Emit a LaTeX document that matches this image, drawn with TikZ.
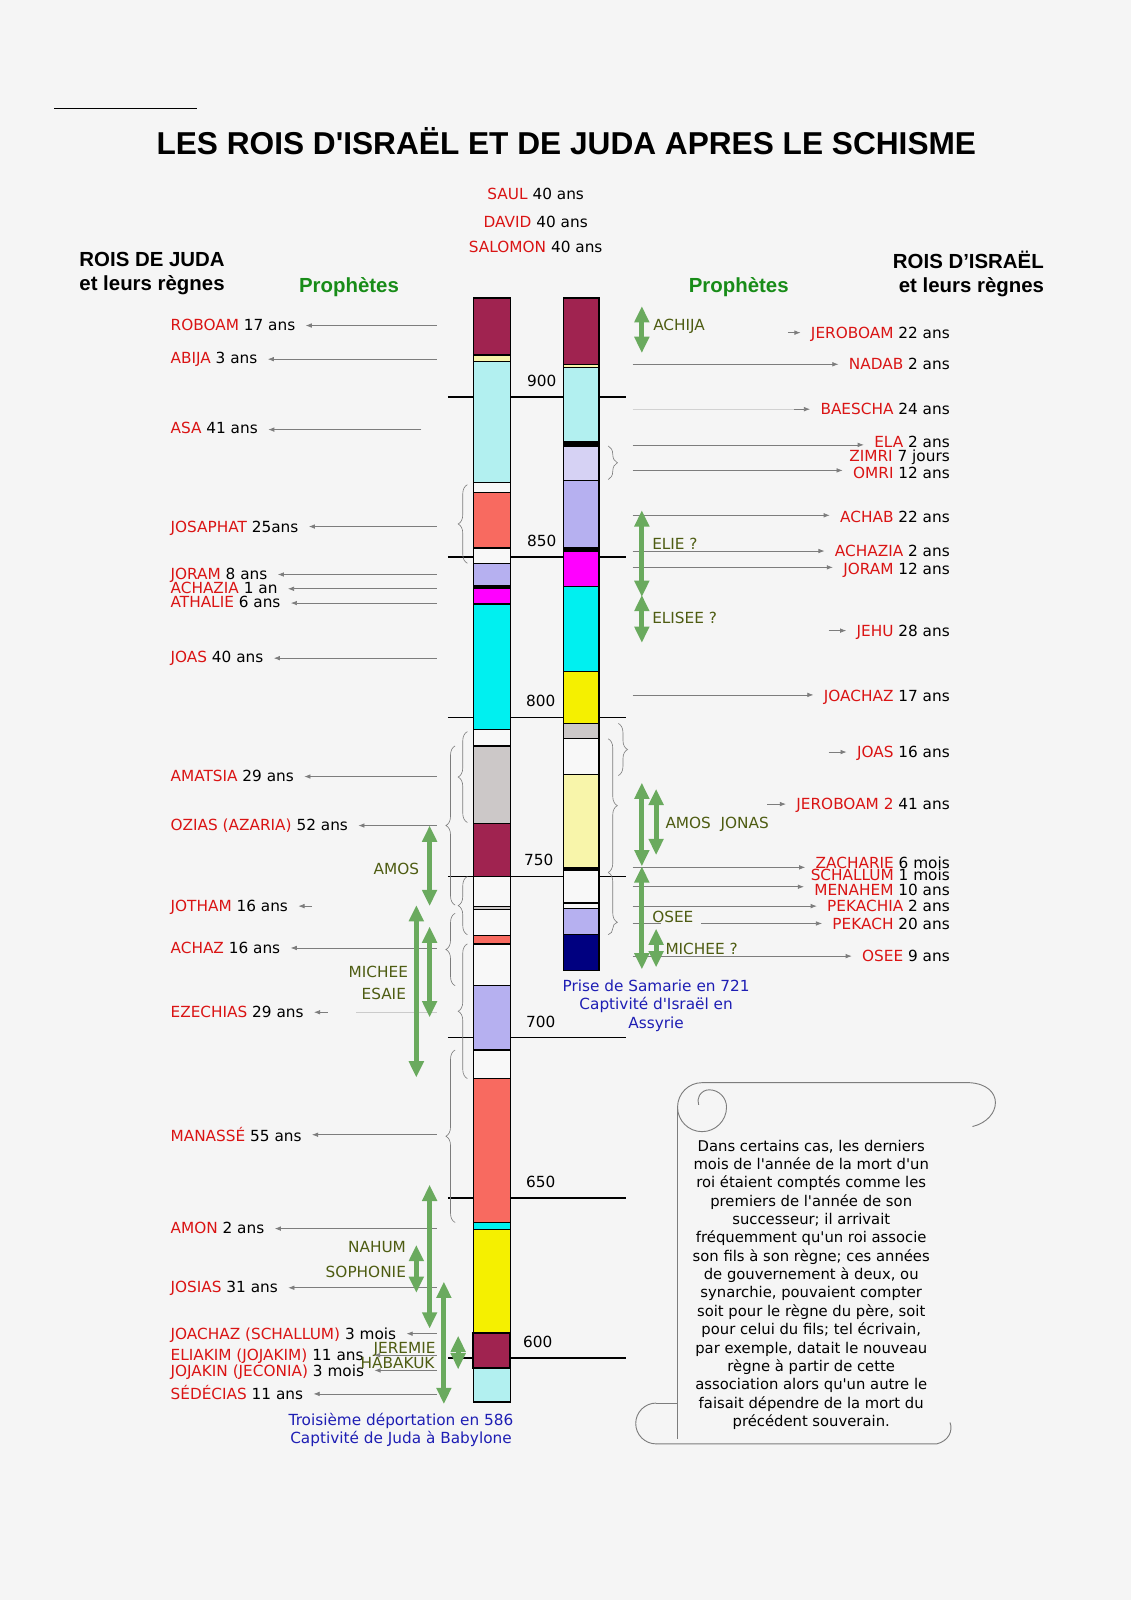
\documentclass[tikz,border=0pt]{standalone}
\usepackage{fontspec}
\setmainfont{DejaVu Sans}
\newfontfamily\dv{DejaVu Sans}
\newfontfamily\hdr{Liberation Sans}
\usetikzlibrary{arrows.meta,decorations.pathreplacing}
\definecolor{bgc}{RGB}{245,245,245}
\definecolor{kred}{RGB}{218,20,20}
\definecolor{pgreen}{RGB}{106,170,94}
\definecolor{hgreen}{RGB}{24,140,24}
\definecolor{olive}{RGB}{78,92,18}
\definecolor{tblue}{RGB}{30,30,180}
\definecolor{gline}{RGB}{125,125,125}
\definecolor{cMaroon}{RGB}{160,35,80}
\definecolor{cPaleY}{RGB}{248,245,170}
\definecolor{cLCyan}{RGB}{178,240,240}
\definecolor{cSalmon}{RGB}{248,106,96}
\definecolor{cLav}{RGB}{182,176,240}
\definecolor{cLLav}{RGB}{214,210,244}
\definecolor{cMag}{RGB}{255,0,255}
\definecolor{cCyan}{RGB}{0,240,240}
\definecolor{cGray}{RGB}{204,200,200}
\definecolor{cYel}{RGB}{245,240,0}
\definecolor{cNavy}{RGB}{0,0,128}
\definecolor{cWhite}{RGB}{248,248,248}
\newcommand\K[2]{{\color{kred}#1} #2}
\newcommand\jseg[3]{\draw[segline,fill=#3] (464,#1) rectangle (500,#2);}
\newcommand\iseg[3]{\draw[segline,fill=#3] (552,#1) rectangle (587,#2);}
\newcommand\larr[3]{\coordinate (a#1) at (#2,#3); \draw[ptr] (a#1) -- (a#1 -| #1.east);}
\newcommand\rarr[3]{\coordinate (a#1) at (#2,#3); \draw[ptr] (a#1) -- (a#1 -| #1.west);}
\tikzset{
  every node/.style={inner sep=0pt,text depth=0pt},
  txt/.style={font=\dv\fontsize{15}{18}\selectfont},
  lk/.style={txt,anchor=west},
  rk/.style={txt,anchor=east},
  plab/.style={txt,text=olive},
  blab/.style={txt,text=tblue,align=center},
  hd/.style={font=\hdr\bfseries\fontsize{20}{24}\selectfont},
  ptr/.style={draw=gline,line width=0.7pt,-{Latex[length=6pt,width=4.5pt]},shorten >=10pt},
  segline/.style={draw=black,line width=1.2pt},
  yearline/.style={draw=black,line width=1.4pt},
  brc/.style={draw=gline,line width=0.6pt,decorate,decoration={brace,amplitude=9pt}},
  gar/.style={draw=pgreen,line width=5pt,{Triangle[width=14pt,length=16pt]}-{Triangle[width=14pt,length=16pt]}},
  scr/.style={draw=gline,line width=0.9pt}
}
\begin{document}
\begin{tikzpicture}[x=1pt,y=-1pt]
\fill[bgc] (0,0) rectangle (1108,1568);
\useasboundingbox (0,0) rectangle (1108,1568);

% top rule and title
\draw[black,line width=1pt] (53,106) -- (193,106);
\node[font=\hdr\bfseries\fontsize{31}{36}\selectfont] (title) at (555,138) {LES ROIS D'ISRAËL ET DE JUDA APRES LE SCHISME};

\node[txt] (saul) at (525,190) {\K{SAUL}{40 ans}};
\node[txt] (david) at (525,217) {\K{DAVID}{40 ans}};
\node[txt] (salomon) at (525,242) {\K{SALOMON}{40 ans}};

\node[hd] (hj1) at (149,254) {ROIS DE JUDA};
\node[hd] (hj2) at (149,277) {et leurs règnes};
\node[hd] (hi1) at (949,255) {ROIS D’ISRAËL};
\node[hd] (hi2) at (952,279) {et leurs règnes};
\node[hd,text=hgreen] (pl) at (342,279) {Prophètes};
\node[hd,text=hgreen] (pr) at (724,279) {Prophètes};

% year lines
\foreach \yy/\lab/\lx in {389/900/531,546/850/531,703/800/530,859/750/528,1017/700/530,1174/650/530,1331/600/527}{
  \draw[yearline] (439,\yy) -- (613,\yy);
  \node[txt] (yr\lab) at (\lx,\yy-16) {\lab};
}

% Judah column
\jseg{292}{348}{cMaroon}
\jseg{348}{354}{cPaleY}
\jseg{354}{473}{cLCyan}
\jseg{473}{483}{cWhite}
\jseg{483}{537}{cSalmon}
\jseg{537}{552}{cWhite}
\jseg{552}{574}{cLav}
\jseg{574}{577}{black}
\jseg{577}{592}{cMag}
\jseg{592}{715}{cCyan}
\jseg{715}{731}{cWhite}
\jseg{731}{807}{cGray}
\jseg{807}{859}{cMaroon}
\jseg{859}{888}{cWhite}
\jseg{888}{891}{cGray}
\jseg{891}{917}{cWhite}
\jseg{917}{925}{cSalmon}
\jseg{925}{966}{cWhite}
\jseg{966}{1029}{cLav}
\jseg{1029}{1057}{cWhite}
\jseg{1057}{1198}{cSalmon}
\jseg{1198}{1205}{cCyan}
\jseg{1205}{1306}{cYel}
\draw[segline,line width=2pt,fill=cMaroon] (464,1306) rectangle (500,1341);
\jseg{1341}{1374}{cLCyan}

% Israel column
\iseg{292}{357}{cMaroon}
\iseg{357}{360}{cPaleY}
\iseg{360}{433}{cLCyan}
\iseg{433}{437}{black}
\iseg{437}{471}{cLLav}
\iseg{471}{537}{cLav}
\iseg{537}{540}{black}
\iseg{540}{575}{cMag}
\iseg{575}{658}{cCyan}
\iseg{658}{709}{cYel}
\iseg{709}{724}{cGray}
\iseg{724}{759}{cWhite}
\iseg{759}{850}{cPaleY}
\iseg{850}{853}{black}
\iseg{853}{885}{cWhite}
\iseg{885}{890}{cWhite}
\iseg{890}{916}{cLav}
\iseg{916}{951}{cNavy}

% braces (Judah, left)
\draw[brc] (458,552) -- (458,475);
\draw[brc] (458,806) -- (458,717);
\draw[brc] (446,887) -- (446,731);
\draw[brc] (458,916) -- (458,859);
\draw[brc] (446,966) -- (446,895);
\draw[brc] (458,1057) -- (458,925);
\draw[brc] (446,1198) -- (446,1029);
% braces (Israel, right)
\draw[brc] (596,437) -- (596,470);
\draw[brc] (606,709) -- (606,760);
\draw[brc] (596,724) -- (596,855);
\draw[brc,decoration={brace,amplitude=9pt,aspect=0.8}] (596,855) -- (596,916);

% kings of Judah
\node[lk] (roboam) at (167,318) {\K{ROBOAM}{17 ans}};
\node[lk] (abija) at (167,351) {\K{ABIJA}{3 ans}};
\node[lk] (asa) at (167,419) {\K{ASA}{41 ans}};
\node[lk] (josaphat) at (167,516) {\K{JOSAPHAT}{25ans}};
\node[lk] (joram) at (167,562) {\K{JORAM}{8 ans}};
\node[lk] (achazia) at (167,576) {\K{ACHAZIA}{1 an}};
\node[lk] (athalie) at (167,590) {\K{ATHALIE}{6 ans}};
\node[lk] (joas) at (167,644) {\K{JOAS}{40 ans}};
\node[lk] (amatsia) at (167,760) {\K{AMATSIA}{29 ans}};
\node[lk] (ozias) at (167,808) {\K{OZIAS (AZARIA)}{52 ans}};
\node[lk] (jotham) at (167,888) {\K{JOTHAM}{16 ans}};
\node[lk] (achaz) at (167,929) {\K{ACHAZ}{16 ans}};
\node[lk] (ezechias) at (167,992) {\K{EZECHIAS}{29 ans}};
\node[lk] (manasse) at (167,1112) {\K{MANASSÉ}{55 ans}};
\node[lk] (amon) at (167,1203) {\K{AMON}{2 ans}};
\node[lk] (josias) at (167,1261) {\K{JOSIAS}{31 ans}};
\node[lk] (joachaz) at (167,1307) {\K{JOACHAZ (SCHALLUM)}{3 mois}};
\node[lk] (eliakim) at (167,1328) {\K{ELIAKIM (JOJAKIM)}{11 ans}};
\node[lk] (jojakin) at (167,1343) {\K{JOJAKIN (JECONIA)}{3 mois}};
\node[lk] (sedecias) at (167,1365) {\K{SÉDÉCIAS}{11 ans}};

\larr{roboam}{428}{319}
\larr{abija}{428}{352}
\larr{asa}{413}{421}
\larr{josaphat}{428}{516}
\larr{joram}{428}{563}
\larr{achazia}{428}{577}
\larr{athalie}{428}{591}
\larr{joas}{428}{645}
\larr{amatsia}{428}{761}
\larr{ozias}{428}{809}
\larr{jotham}{306}{888}
\larr{achaz}{428}{929}
\larr{ezechias}{321}{992}
\draw[gline!40,line width=0.7pt] (349,992) -- (428,992);
\larr{manasse}{428}{1112}
\larr{amon}{428}{1204}
\larr{josias}{428}{1262}
\larr{joachaz}{428}{1307}
\larr{eliakim}{428}{1328}
\larr{jojakin}{428}{1343}
\larr{sedecias}{428}{1366}

% kings of Israel
\node[rk] (jeroboam) at (931,326) {\K{JEROBOAM}{22 ans}};
\node[rk] (nadab) at (931,357) {\K{NADAB}{2 ans}};
\node[rk] (baescha) at (931,401) {\K{BAESCHA}{24 ans}};
\node[rk] (ela) at (931,433) {\K{ELA}{2 ans}};
\node[rk] (zimri) at (931,447) {\K{ZIMRI}{7 jours}};
\node[rk] (omri) at (931,463) {\K{OMRI}{12 ans}};
\node[rk] (achab) at (931,506) {\K{ACHAB}{22 ans}};
\node[rk] (achaziai) at (931,540) {\K{ACHAZIA}{2 ans}};
\node[rk] (jorami) at (931,557) {\K{JORAM}{12 ans}};
\node[rk] (jehu) at (931,618) {\K{JEHU}{28 ans}};
\node[rk] (joachazi) at (931,682) {\K{JOACHAZ}{17 ans}};
\node[rk] (joasi) at (931,737) {\K{JOAS}{16 ans}};
\node[rk] (jeroboamb) at (931,788) {\K{JEROBOAM 2}{41 ans}};
\node[rk] (zacharie) at (931,845) {\K{ZACHARIE}{6 mois}};
\node[rk] (schallum) at (931,857) {\K{SCHALLUM}{1 mois}};
\node[rk] (menahem) at (931,872) {\K{MENAHEM}{10 ans}};
\node[rk] (pekachia) at (931,888) {\K{PEKACHIA}{2 ans}};
\node[rk] (pekach) at (931,905) {\K{PEKACH}{20 ans}};
\node[rk] (osee) at (931,937) {\K{OSEE}{9 ans}};

\rarr{jeroboam}{772}{326}
\rarr{nadab}{620}{357}
\draw[gline!35,line width=0.7pt] (620,401) -- (780,401);
\rarr{baescha}{778}{401}
\rarr{ela}{620}{436}
\rarr{omri}{620}{461}
\rarr{achab}{620}{505}
\rarr{achaziai}{620}{540}
\rarr{jorami}{620}{556}
\rarr{jehu}{812}{618}
\rarr{joachazi}{620}{681}
\rarr{joasi}{812}{737}
\rarr{jeroboamb}{752}{788}
\rarr{zacharie}{620}{850}
\rarr{menahem}{620}{869}
\rarr{pekachia}{620}{888}
\draw[gline,line width=0.7pt] (620,905) -- (648,905);
\rarr{pekach}{687}{905}
\rarr{osee}{620}{937}

% prophets (green spans)
\draw[gar] (629,300) -- (629,346);
\draw[gar] (629,500) -- (629,585);
\draw[gar] (629,583) -- (629,630);
\draw[gar] (629,767) -- (629,849);
\draw[gar] (643,773) -- (643,838);
\draw[gar] (629,849) -- (629,950);
\draw[gar] (643,910) -- (643,948);
\draw[gar] (421,809) -- (421,888);
\draw[gar] (408,887) -- (408,1056);
\draw[gar] (421,908) -- (421,997);
\draw[gar] (421,1161) -- (421,1302);
\draw[gar] (408,1220) -- (408,1267);
\draw[gar] (435,1256) -- (435,1376);
\draw[gar] (449,1309) -- (449,1342);

\node[plab,anchor=west] (achija) at (640,318) {ACHIJA};
\node[plab,anchor=west] (elie) at (639,533) {ELIE ?};
\node[plab,anchor=west] (elisee) at (639,605) {ELISEE ?};
\node[plab,anchor=west] (amosjonas) at (652,806) {AMOS\ \ JONAS};
\node[plab,anchor=west] (oseep) at (639,898) {OSEE};
\node[plab,anchor=west] (micheer) at (652,930) {MICHEE ?};
\node[plab,anchor=east] (amosl) at (411,851) {AMOS};
\node[plab,anchor=east] (michee) at (400,952) {MICHEE};
\node[plab,anchor=east] (esaie) at (398,974) {ESAIE};
\node[plab,anchor=east] (nahum) at (398,1222) {NAHUM};
\node[plab,anchor=east] (sophonie) at (398,1246) {SOPHONIE};
\node[plab,anchor=east] (jeremie) at (427,1321) {JEREMIE};
\node[plab,anchor=east] (habakuk) at (426,1336) {HABAKUK};

% blue notes
\node[blab] (samarie) at (643,984) {Prise de Samarie en 721\\Captivité d'Israël en\\Assyrie};
\node[blab] (babylone) at (393,1400) {Troisième déportation en 586\\Captivité de Juda à Babylone};

% scroll
\draw[scr] (688,1061) -- (950,1061) .. controls (985,1063) and (982,1097) .. (953,1104);
\draw[scr] (688,1061) arc[start angle=-90,end angle=-360,radius=24]
   arc[start angle=0,end angle=-90,radius=17] arc[start angle=-90,end angle=-200,radius=11];
\draw[scr] (664,1085) -- (664,1410);
\draw[scr] (643,1375) -- (664,1375);
\draw[scr] (643,1375) arc[start angle=-90,end angle=-270,radius=20];
\draw[scr] (643,1415) -- (918,1415) .. controls (930,1412) and (934,1402) .. (931,1394);
\node[txt,font=\dv\fontsize{14.5}{18}\selectfont,align=center,text depth=3pt] (note) at (795,1259) {Dans certains cas, les derniers\\mois de l'année de la mort d'un\\roi étaient comptés comme les\\premiers de l'année de son\\successeur; il arrivait\\fréquemment qu'un roi associe\\son fils à son règne; ces années\\de gouvernement à deux, ou\\synarchie, pouvaient compter\\soit pour le règne du père, soit\\pour celui du fils; tel écrivain,\\par exemple, datait le nouveau\\règne à partir de cette\\association alors qu'un autre le\\faisait dépendre de la mort du\\précédent souverain.};
\end{tikzpicture}
\end{document}
